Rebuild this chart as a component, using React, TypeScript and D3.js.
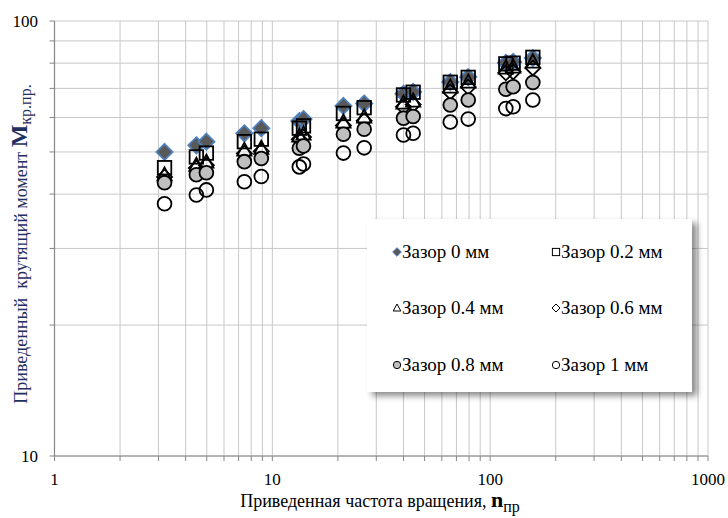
import React from "react";
import * as d3 from "d3";

const nValues = [3.2, 4.48, 4.98, 7.44, 8.9, 13.3, 13.9, 21.2, 26.4, 40, 44.3, 65.6, 79.3, 118, 127.5, 157];
const gap0 = [50.0, 51.8, 52.8, 55.2, 56.7, 58.9, 59.5, 63.8, 64.6, 68.0, 68.7, 72.4, 74.3, 80.1, 80.5, 82.2];
const gap02 = [46.0, 48.7, 49.7, 52.8, 53.5, 56.7, 57.4, 61.3, 63.2, 67.6, 68.6, 72.3, 74.2, 79.7, 80.0, 82.5];
const gap04 = [44.3, 46.6, 47.4, 50.5, 51.0, 54.4, 55.0, 58.6, 60.2, 64.8, 65.5, 70.5, 72.4, 78.0, 78.4, 80.5];
const gap06 = [43.8, 45.9, 46.6, 49.6, 50.2, 53.5, 54.1, 57.5, 59.0, 63.5, 64.3, 68.7, 70.5, 76.0, 76.4, 78.0];
const gap08 = [42.5, 44.3, 44.8, 47.5, 48.3, 51.0, 51.6, 54.9, 56.4, 59.8, 60.3, 64.1, 65.8, 69.7, 70.6, 72.2];
const gap1 = [38.0, 39.8, 40.9, 42.7, 43.9, 46.2, 46.9, 49.7, 51.1, 54.7, 55.2, 58.6, 59.5, 62.9, 63.5, 65.8];

const seriesNames = ["Зазор 0 мм", "Зазор 0.2 мм", "Зазор 0.4 мм", "Зазор 0.6 мм", "Зазор 0.8 мм", "Зазор 1 мм"];
const xTickLabels = ["1", "10", "100", "1000"];
const yTickLabels = ["10", "100"];

type Shape = "fdiamond" | "square" | "triangle" | "diamond" | "gcircle" | "circle";

const seriesList: { name: string; values: number[]; shape: Shape }[] = [
  { name: seriesNames[0], values: gap0, shape: "fdiamond" },
  { name: seriesNames[1], values: gap02, shape: "square" },
  { name: seriesNames[2], values: gap04, shape: "triangle" },
  { name: seriesNames[3], values: gap06, shape: "diamond" },
  { name: seriesNames[4], values: gap08, shape: "gcircle" },
  { name: seriesNames[5], values: gap1, shape: "circle" },
];

const W = 728;
const H = 518;
const x = d3.scaleLog().domain([1, 1000]).range([54.5, 708]);
const y = d3.scaleLog().domain([10, 100]).range([456, 21]);

function Marker({ shape, s }: { shape: Shape; s: number }) {
  const sw = s > 5 ? 1.8 : 1;
  switch (shape) {
    case "fdiamond":
      return <path d={`M0,${-s * 1.08}L${s * 1.08},0L0,${s * 1.08}L${-s * 1.08},0Z`} fill="#595959" stroke="#4F81BD" strokeWidth={sw} />;
    case "diamond":
      return <path d={`M0,${-s}L${s},0L0,${s}L${-s},0Z`} fill="none" stroke="#000" strokeWidth={sw} />;
    case "square":
      return <rect x={-s * 0.9} y={-s * 0.9} width={s * 1.8} height={s * 1.8} fill="none" stroke="#000" strokeWidth={sw} />;
    case "triangle":
      return <path d={`M0,${-s}L${s * 0.95},${s * 0.75}L${-s * 0.95},${s * 0.75}Z`} fill="none" stroke="#000" strokeWidth={sw} />;
    case "gcircle":
      return <circle r={s * 0.92} fill="#BFBFBF" stroke="#000" strokeWidth={sw} />;
    case "circle":
      return <circle r={s * 0.92} fill="none" stroke="#000" strokeWidth={sw} />;
  }
}

export default function App() {
  const xMinor: number[] = [];
  for (const dec of [1, 10, 100]) for (let k = 1; k <= 9; k++) xMinor.push(dec * k);
  xMinor.push(1000);
  const yMinor: number[] = [];
  for (let k = 1; k <= 10; k++) yMinor.push(10 * k);

  const [x0, x1] = x.range();
  const [y0, y1] = y.range();

  const legendX = 367;
  const legendY = 219;
  const legendW = 325;
  const legendH = 173;
  const colX = [legendX + 30, legendX + 189];
  const rowY = [legendY + 33, legendY + 89, legendY + 146];

  return (
    <svg width={W} height={H} style={{ position: "absolute", left: 0, top: 0, background: "#fff" }} fontFamily="'Liberation Serif', 'Times New Roman', serif">
      <defs>
        <filter id="shadow" x="-10%" y="-10%" width="130%" height="130%">
          <feDropShadow dx="5" dy="4" stdDeviation="3" floodColor="#000" floodOpacity="0.45" />
        </filter>
      </defs>
      <rect x={0} y={0} width={W} height={H} fill="#fff" />
      {xMinor.map((v, i) => (
        <line key={"gx" + i} x1={x(v)} x2={x(v)} y1={y1} y2={y0} stroke="#C8C8C8" strokeWidth={1} />
      ))}
      {yMinor.map((v, i) => (
        <line key={"gy" + i} x1={x0} x2={x1} y1={y(v)} y2={y(v)} stroke="#C8C8C8" strokeWidth={1} />
      ))}
      <line x1={x0} x2={x1} y1={y0} y2={y0} stroke="#868686" strokeWidth={1.2} />
      <line x1={x0} x2={x0} y1={y1} y2={y0} stroke="#868686" strokeWidth={1.2} />
      {xMinor.map((v, i) => (
        <line key={"tx" + i} x1={x(v)} x2={x(v)} y1={y0} y2={y0 + 5} stroke="#868686" strokeWidth={1} />
      ))}
      {yMinor.map((v, i) => (
        <line key={"ty" + i} x1={x0 - 5} x2={x0} y1={y(v)} y2={y(v)} stroke="#868686" strokeWidth={1} />
      ))}
      {xTickLabels.map((t) => (
        <text key={"xl" + t} x={x(+t)} y={485} textAnchor="middle" fontSize={17} fill="#000">{t}</text>
      ))}
      {yTickLabels.map((t) => (
        <text key={"yl" + t} x={38} y={y(+t) + 6} textAnchor="end" fontSize={17} fill="#000">{t}</text>
      ))}
      <text x={380} y={507} textAnchor="middle" fontSize={18} fill="#000">
        Приведенная частота вращения,{" "}
        <tspan fontWeight="bold" fontSize={22}>n</tspan>
        <tspan fontSize={16} dy={5}>пр</tspan>
      </text>
      <text transform={`translate(27, 244) rotate(-90)`} textAnchor="middle" fontSize={18} fill="#1F2F5F" style={{ whiteSpace: "pre" }}>
        {"Приведенный  крутящий момент "}
        <tspan fontWeight="bold" fontSize={24}>M</tspan>
        <tspan fontSize={16} dy={4}>кр.пр.</tspan>
      </text>
      {seriesList.map((s) => (
        <g key={s.name}>
          {s.values.map((v, i) => (
            <g key={i} transform={`translate(${x(nValues[i])},${y(v)})`}>
              <Marker shape={s.shape} s={7.5} />
            </g>
          ))}
        </g>
      ))}
      <rect x={legendX} y={legendY} width={legendW} height={legendH} fill="#fff" filter="url(#shadow)" />
      {seriesList.map((s, i) => {
        const cx = colX[i % 2];
        const cy = rowY[Math.floor(i / 2)];
        return (
          <g key={"lg" + i}>
            <g transform={`translate(${cx},${cy})`}>
              <Marker shape={s.shape} s={4} />
            </g>
            <text x={cx + 5} y={cy + 6} fontSize={19} fill="#000">{s.name}</text>
          </g>
        );
      })}
    </svg>
  );
}
